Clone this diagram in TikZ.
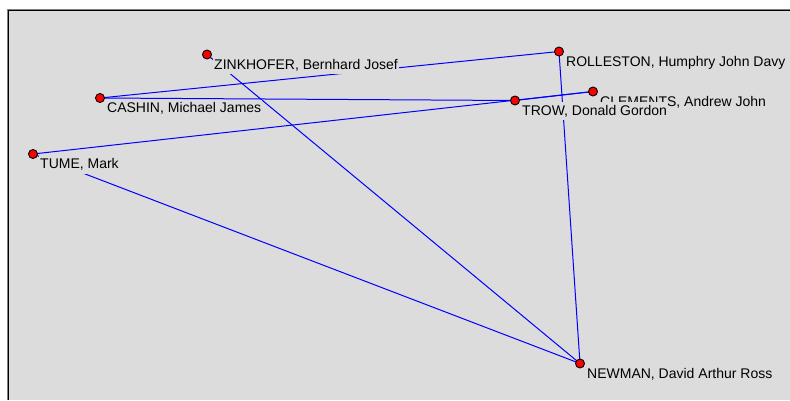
\documentclass[tikz,border=0pt]{standalone}
\usepackage{fontspec}
\setmainfont{Liberation Sans}
\definecolor{panel}{RGB}{220,220,220}
\definecolor{edgeblue}{RGB}{0,0,255}
\tikzset{
  edge/.style={draw=edgeblue,line width=1pt},
  dotn/.style={circle,fill=red,draw=black,line width=0.9pt,minimum size=9pt,inner sep=0pt},
  lbl/.style={anchor=north west,fill=panel,inner xsep=1pt,inner ysep=2pt,text height=11pt,text depth=3pt,
              font=\fontsize{14pt}{16pt}\selectfont,text=black}
}
\begin{document}
\begin{tikzpicture}[x=1pt,y=-1pt]
\useasboundingbox (0,0) rectangle (790,400);
\fill[white] (0,0) rectangle (790,400);
\fill[panel] (9,11) rectangle (790,400);
\draw[gray,line width=1pt] (7.5,400) -- (7.5,9.5) -- (790,9.5);
\draw[black,line width=1pt] (8.5,400) -- (8.5,10.5) -- (790,10.5);
% positions
\coordinate (zink) at (207,54.5);
\coordinate (roll) at (559,51.5);
\coordinate (cash) at (100,98);
\coordinate (clem) at (593,91.5);
\coordinate (trow) at (515,100.5);
\coordinate (tume) at (33,154);
\coordinate (newm) at (580,363.5);
% connectors
\draw[edge] (cash) -- (roll);
\draw[edge] (cash) -- (trow);
\draw[edge] (tume) -- (clem);
\draw[edge] (trow) -- (clem);
\draw[edge] (zink) -- (newm);
\draw[edge] (tume) -- (newm);
\draw[edge] (roll) -- (newm);
% dots and labels
\node[dotn] (dzink) at (zink) {};
\node[lbl] (lzink) at ([xshift=6pt,yshift=-1.5pt]zink) {ZINKHOFER, Bernhard Josef};
\node[dotn] (droll) at (roll) {};
\node[lbl] (lroll) at ([xshift=6pt,yshift=-1.5pt]roll) {ROLLESTON, Humphry John Davy};
\node[dotn] (dcash) at (cash) {};
\node[lbl] (lcash) at ([xshift=6pt,yshift=-1.5pt]cash) {CASHIN, Michael James};
\node[dotn] (dclem) at (clem) {};
\node[lbl] (lclem) at ([xshift=6pt,yshift=-1.5pt]clem) {CLEMENTS, Andrew John};
\node[dotn] (dtrow) at (trow) {};
\node[lbl] (ltrow) at ([xshift=6pt,yshift=-1.5pt]trow) {TROW, Donald Gordon};
\node[dotn] (dtume) at (tume) {};
\node[lbl] (ltume) at ([xshift=6pt,yshift=-1.5pt]tume) {TUME, Mark};
\node[dotn] (dnewm) at (newm) {};
\node[lbl] (lnewm) at ([xshift=6pt,yshift=-1.5pt]newm) {NEWMAN, David Arthur Ross};
\end{tikzpicture}
\end{document}
